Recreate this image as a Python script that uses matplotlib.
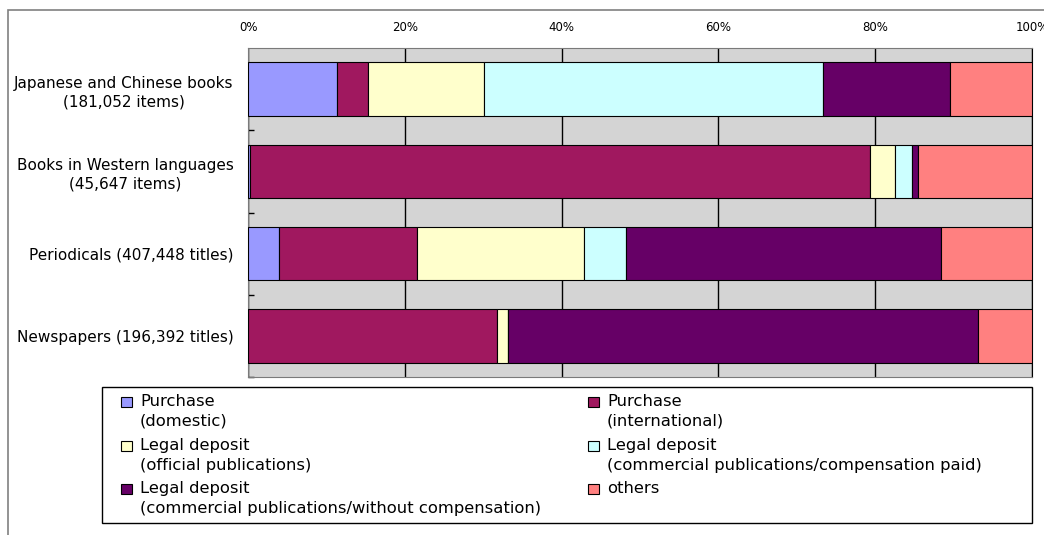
import matplotlib
matplotlib.use('Agg')
import matplotlib.pyplot as plt
import numpy as np
from matplotlib.patches import Rectangle

# share of acquisitions (%) by route, for each material type
categories = ['Japanese and Chinese books\n(181,052 items)',
              'Books in Western languages\n(45,647 items)',
              'Periodicals (407,448 titles)',
              'Newspapers (196,392 titles)']
series_names = ['Purchase\n(domestic)',
                'Purchase\n(international)',
                'Legal deposit\n(official publications)',
                'Legal deposit\n(commercial publications/compensation paid)',
                'Legal deposit\n(commercial publications/without compensation)',
                'others']
purchase_domestic = [11.3, 0.3, 4.0, 0.0]
purchase_international = [4.0, 79.0, 17.6, 31.7]
deposit_official = [14.8, 3.2, 21.3, 1.5]
deposit_paid = [43.2, 2.2, 5.3, 0.0]
deposit_unpaid = [16.2, 0.7, 40.2, 59.9]
others = [10.5, 14.6, 11.6, 6.9]
colors = ['#9999FF', '#A0185F', '#FFFFCC', '#CCFFFF', '#660066', '#FF8080']

values = [purchase_domestic, purchase_international, deposit_official,
          deposit_paid, deposit_unpaid, others]

W, H = 1044, 535
fig = plt.figure(figsize=(W / 100, H / 100), dpi=100)

def px(x, y):
    # pixel position from top-left -> figure fraction
    return x / W, 1 - y / H

# outer chart frame
fig.patches.append(Rectangle((8 / W, -0.1), 1.2, 1 - 10 / H + 0.1,
                             transform=fig.transFigure, fill=False,
                             edgecolor='#808080', linewidth=1.2))

ax = fig.add_axes([248 / W, 1 - 377 / H, (1032 - 248) / W, (377 - 48) / H])
ax.set_facecolor('#D4D4D4')

y = np.arange(len(categories))
left = np.zeros(len(categories))
for vals, c in zip(values, colors):
    ax.barh(y, vals, left=left, height=0.65, color=c, edgecolor='black',
            linewidth=0.8, zorder=3)
    left += np.array(vals)

ax.set_xlim(0, 100)
ax.set_ylim(3.5, -0.5)
ax.set_xticks(np.arange(0, 101, 20))
ax.set_xticklabels([f'{v}%' for v in range(0, 101, 20)], fontsize=8.5)
ax.xaxis.tick_top()
ax.tick_params(axis='x', length=0, pad=10)
ax.grid(axis='x', color='black', linewidth=1.0, zorder=1)

ax.set_yticks(y)
ax.set_yticklabels(categories, fontsize=11, linespacing=1.3)
for lbl in ax.get_yticklabels():
    lbl.set_multialignment('center')
ax.tick_params(axis='y', length=0, pad=10.5)
ax.set_yticks([0.5, 1.5, 2.5, 3.5], minor=True)
ax.tick_params(axis='y', which='minor', direction='in', length=4, width=1)

for side in ['top', 'left', 'bottom']:
    ax.spines[side].set_color('#7a7a7a')
ax.spines['right'].set_color('black')

# legend box: two columns, entries filled row by row
fig.patches.append(Rectangle(px(102, 523), (1032 - 102) / W, (523 - 387) / H,
                             transform=fig.transFigure, fill=False,
                             edgecolor='black', linewidth=1.0))
col_x = [121, 588]
row_y = [402, 446, 489]
for i, (name, c) in enumerate(zip(series_names, colors)):
    x0 = col_x[i % 2]
    y0 = row_y[i // 2]
    fig.patches.append(Rectangle(px(x0, y0 + 5), 11 / W, 10 / H,
                                 transform=fig.transFigure, facecolor=c,
                                 edgecolor='black', linewidth=0.8))
    fig.text(*px(x0 + 19, y0 - 8), name, fontsize=11.8, va='top', ha='left',
             linespacing=1.4)

fig.savefig('out.png', dpi=100)
